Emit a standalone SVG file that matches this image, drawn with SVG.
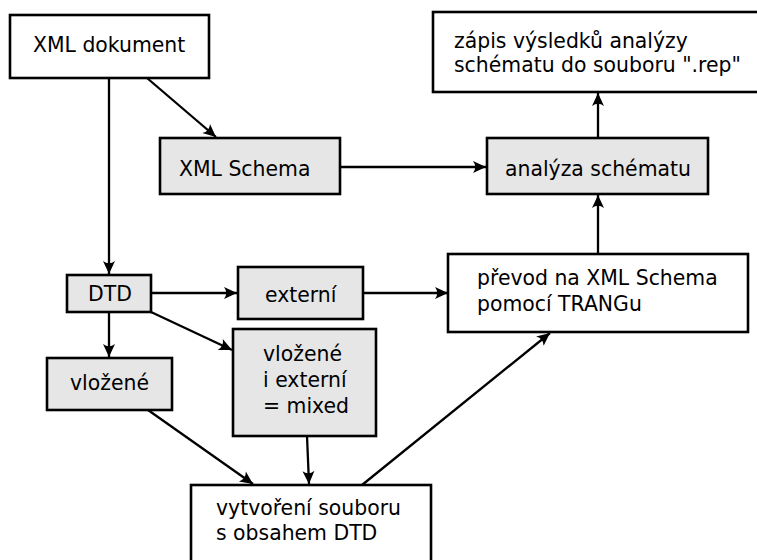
<svg xmlns="http://www.w3.org/2000/svg" width="757" height="560" viewBox="0 0 757 560">
<style>
.box{fill:#ffffff;stroke:#000;stroke-width:2.6}
.gbox{fill:#e6e6e6;stroke:#000;stroke-width:2.6}
text{font-family:"DejaVu Sans",sans-serif;font-size:20.4px;fill:#000}
.con path{fill:none;stroke:#000;stroke-width:2.3;marker-end:url(#ah)}
</style>
<defs>
<marker id="ah" markerUnits="userSpaceOnUse" markerWidth="18" markerHeight="16" viewBox="-15 -8 18 16" refX="0" refY="0" orient="auto">
<path d="M0,0 L-13,-6 Q-8.5,0 -13,6 Z" fill="#000"/>
</marker>
</defs>
<rect width="757" height="560" fill="#fff"/>
<g class="con">
<path d="M147,78 L216,137"/>
<path d="M109,78 L109,274"/>
<path d="M340,167 L486,167"/>
<path d="M598,138 L598,93"/>
<path d="M598,254 L598,195"/>
<path d="M151,293 L237,293"/>
<path d="M363,293 L448,293"/>
<path d="M151,312 L232,350"/>
<path d="M109,312 L109,357"/>
<path d="M148,410 L253,484"/>
<path d="M307,436 L309,484"/>
<path d="M362,485 L550,333"/>
</g>
<g id="xml-dokument"><rect class="box" x="10" y="15" width="199" height="63"/><text x="33" y="52">XML dokument</text></g>
<g id="xml-schema"><rect class="gbox" x="160" y="138" width="180" height="56"/><text x="179" y="176">XML Schema</text></g>
<g id="zapis"><rect class="box" x="433" y="12" width="340" height="80"/><text x="454" y="48">zápis výsledků analýzy</text><text x="454" y="72">schématu do souboru ".rep"</text></g>
<g id="analyza"><rect class="gbox" x="487" y="138" width="221" height="56"/><text x="505" y="176">analýza schématu</text></g>
<g id="dtd"><rect class="gbox" x="67" y="275" width="84" height="37"/><text x="88" y="301">DTD</text></g>
<g id="externi"><rect class="gbox" x="238" y="267" width="125" height="52"/><text x="265" y="302">externí</text></g>
<g id="prevod"><rect class="box" x="448" y="254" width="300" height="78"/><text x="477" y="285">převod na XML Schema</text><text x="477" y="311">pomocí TRANGu</text></g>
<g id="mixed"><rect class="gbox" x="233" y="329" width="143" height="107"/><text x="263" y="361">vložené</text><text x="263" y="387">i externí</text><text x="263" y="413">= mixed</text></g>
<g id="vlozene"><rect class="gbox" x="47" y="358" width="125" height="52"/><text x="70" y="390">vložené</text></g>
<g id="vytvoreni"><rect class="box" x="191" y="485" width="240" height="90"/><text x="216" y="515">vytvoření souboru</text><text x="216" y="540">s obsahem DTD</text></g>
</svg>
